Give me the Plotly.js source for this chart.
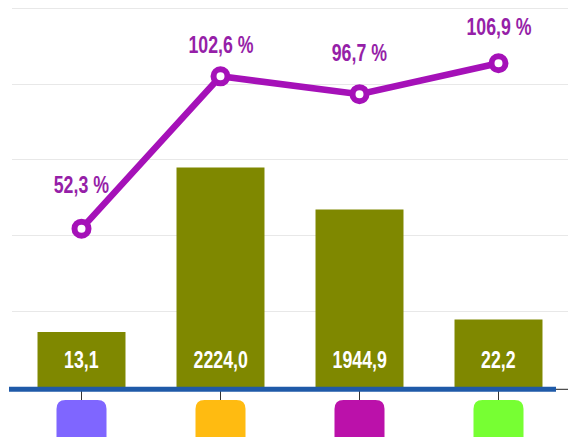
<!DOCTYPE html>
<html>
<head>
<meta charset="utf-8">
<script src="https://cdn.plot.ly/plotly-3.0.1.min.js"></script>
<style>
  html, body { margin: 0; padding: 0; background: #ffffff; }
  #chart { width: 568px; height: 437px; }
  /* narrow, tall lettering like the reference */
  #chart .annotation-text {
    transform-box: fill-box;
    transform-origin: center;
    transform: scaleX(0.74);
  }
</style>
</head>
<body>
<div id="chart"></div>
<script>
// ---- data ----
const categories = ["A", "B", "C", "D"];
const barHeights = [18.2, 72.5, 58.6, 22.3];
const barLabels = ["13,1", "2224,0", "1944,9", "22,2"];
const pctValues = [52.3, 102.6, 96.7, 106.9];
const pctLabels = ["52,3 %", "102,6 %", "96,7 %", "106,9 %"];
const iconColors = ["#7f66ff", "#ffbb11", "#bb11aa", "#77ff33"];

// ---- layout constants ----
const pctLabelShift = [44, 32, 42, 37];
const barLabelY = 9.0;
const FONT = "'Liberation Sans', Arial, sans-serif";
const xIdx = categories.map((_, i) => i);

const traces = [
  {
    type: "bar",
    x: xIdx,
    y: barHeights,
    width: 0.633,
    marker: { color: "#7f8800", line: { width: 0 } },
    hoverinfo: "skip"
  },
  {
    type: "scatter",
    mode: "lines+markers",
    x: xIdx,
    y: pctValues,
    line: { color: "#a511b8", width: 6.5 },
    marker: { symbol: "circle", size: 14, color: "#ffffff", line: { color: "#a511b8", width: 6 } },
    hoverinfo: "skip"
  }
];

const annotations = [];
pctLabels.forEach((t, i) => {
  annotations.push({
    x: i, y: pctValues[i], xref: "x", yref: "y",
    text: t, showarrow: false, yshift: pctLabelShift[i],
    xanchor: "center", yanchor: "middle",
    font: { family: FONT, size: 24, color: "#961fa8", weight: "bold" }
  });
});
barLabels.forEach((t, i) => {
  annotations.push({
    x: i, y: barLabelY, xref: "x", yref: "y",
    text: t, showarrow: false,
    xanchor: "center", yanchor: "middle",
    font: { family: FONT, size: 24, color: "#ffffff", weight: "bold" }
  });
});

const rad = 9, hw = 25, iTop = -13, iBot = -63;
const iconPath =
  `M ${-hw + rad},${iTop} L ${hw - rad},${iTop} Q ${hw},${iTop} ${hw},${iTop - rad} ` +
  `L ${hw},${iBot + rad} Q ${hw},${iBot} ${hw - rad},${iBot} L ${-hw + rad},${iBot} ` +
  `Q ${-hw},${iBot} ${-hw},${iBot + rad} L ${-hw},${iTop - rad} Q ${-hw},${iTop} ${-hw + rad},${iTop} Z`;

const shapes = [
  {
    type: "line", xref: "paper", yref: "paper",
    x0: 0.9, x1: 1.0, ysizemode: "pixel", yanchor: 0, y0: -2.3, y1: -2.3,
    line: { color: "#222222", width: 1 }, layer: "above"
  },
  {
    type: "rect", xref: "paper", yref: "paper",
    x0: -0.0054, x1: 0.9784, ysizemode: "pixel", yanchor: 0, y0: 0.3, y1: -4.7,
    fillcolor: "#1f5aa8", line: { width: 0 }, layer: "above"
  }
];
iconColors.forEach((c, i) => {
  shapes.push({
    type: "path", xref: "x", yref: "paper",
    xsizemode: "pixel", xanchor: i,
    ysizemode: "pixel", yanchor: 0,
    path: iconPath,
    fillcolor: c, line: { width: 0 }, layer: "above"
  });
});

const layout = {
  width: 568, height: 437,
  margin: { l: 12, r: 0, t: 0, b: 50, pad: 0 },
  paper_bgcolor: "#ffffff",
  plot_bgcolor: "#ffffff",
  showlegend: false,
  xaxis: {
    range: [-0.5, 3.5],
    tickvals: xIdx,
    showticklabels: false,
    ticks: "outside", ticklen: 13, tickwidth: 1, tickcolor: "#333333",
    showgrid: false, zeroline: false, showline: false, fixedrange: true
  },
  yaxis: {
    range: [0, 127.8],
    dtick: 25, tick0: 0,
    showticklabels: false, ticks: "",
    showgrid: true, gridcolor: "#e8e8e8", gridwidth: 1,
    zeroline: false, showline: false, fixedrange: true
  },
  annotations: annotations,
  shapes: shapes,
  font: { family: FONT }
};

Plotly.newPlot("chart", traces, layout, { staticPlot: true, displayModeBar: false });
</script>
</body>
</html>
